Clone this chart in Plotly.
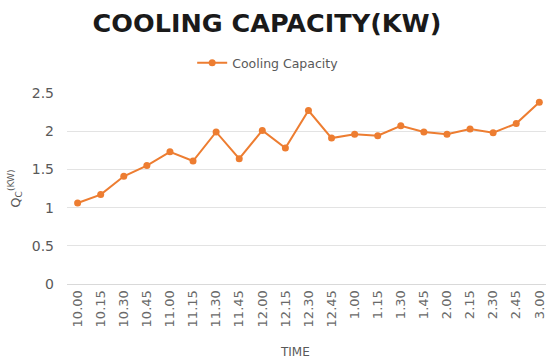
import plotly.graph_objects as go

time_labels = ["10.00", "10.15", "10.30", "10.45", "11.00", "11.15", "11.30", "11.45",
               "12.00", "12.15", "12.30", "12.45", "1.00", "1.15", "1.30", "1.45",
               "2.00", "2.15", "2.30", "2.45", "3.00"]
cooling_capacity = [1.06, 1.17, 1.41, 1.55, 1.73, 1.61, 1.99, 1.64, 2.01, 1.78, 2.27,
                    1.91, 1.96, 1.94, 2.07, 1.99, 1.96, 2.03, 1.98, 2.10, 2.38]

x_idx = list(range(len(time_labels)))

fig = go.Figure()
fig.add_trace(go.Scatter(
    x=x_idx, y=cooling_capacity, mode="lines+markers", name="Cooling Capacity",
    line=dict(color="#ED7D31", width=2),
    marker=dict(color="#ED7D31", size=7, symbol="circle"),
))

fig.update_layout(
    width=546, height=360,
    margin=dict(l=67, r=0, t=93, b=76),
    paper_bgcolor="white", plot_bgcolor="white",
    font=dict(family="DejaVu Sans", color="#595959"),
    title=dict(text="<b>COOLING CAPACITY(KW)</b>", x=0.489, xref="container",
               y=0.936, yref="container", xanchor="center", yanchor="middle",
               font=dict(size=25.5, color="#1a1a1a", family="DejaVu Sans")),
    showlegend=True,
    legend=dict(orientation="h", x=0.42, y=1.157, xanchor="center", yanchor="middle",
                font=dict(size=12.5, color="#595959"), bgcolor="rgba(0,0,0,0)",
                itemwidth=30),
    xaxis=dict(
        tickmode="array", tickvals=x_idx, ticktext=time_labels,
        range=[-0.46, 20.29], tickangle=-90, tickfont=dict(size=13, color="#6a6a6a"),
        showgrid=False, showline=True, linecolor="#d9d9d9", linewidth=1,
        ticks="", zeroline=False, ticklabeloverflow="allow",
    ),
    yaxis=dict(
        range=[0, 2.5], tickvals=[0, 0.5, 1, 1.5, 2, 2.5],
        ticktext=["0", "0.5", "1", "1.5", "2", "2.5"],
        tickfont=dict(size=14, color="#595959"),
        showgrid=True, gridcolor="#e3e3e3", gridwidth=1, zeroline=False,
        showline=False, ticks="", ticklen=0, ticklabelstandoff=12,
        title=dict(text="Q<sub>C</sub><sup>(KW)</sup>", font=dict(size=13, color="#595959"),
                   standoff=8),
    ),
    annotations=[dict(text="TIME", x=0.476, xref="paper", y=352, yref="paper",
                      yanchor="middle", xanchor="center", showarrow=False,
                      font=dict(size=12, color="#595959"))],
)
fig.layout.annotations[0].y = -(352 - 284) / 191.0

fig.write_html("out.html")
